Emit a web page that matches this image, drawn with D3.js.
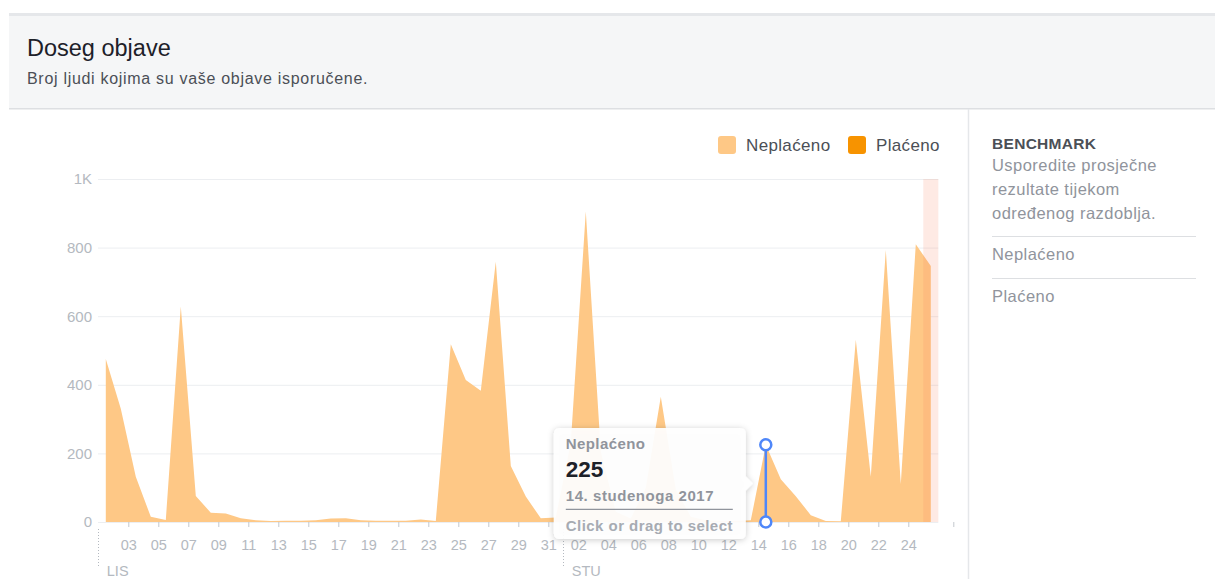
<!DOCTYPE html>
<meta charset="utf-8">
<script src="https://cdn.jsdelivr.net/npm/d3@7"></script>
<style>
body { margin: 0; background: #fff; }
text { font-family: "Liberation Sans", Arial, sans-serif; }
.grid line { stroke: #eceef1; }
.grid text { fill: #b4b9c0; font-size: 15px; }
.xaxis line { stroke: #c4c8ce; }
.xaxis text { fill: #b4b9c0; font-size: 14.5px; }
</style>
<body>
<script>

// daily reach, October 1..31 and November 1..25 (2017)
var octReach = [475, 330, 132, 15, 6, 628, 76, 27, 25, 11, 5, 3, 4, 4, 5, 10, 11, 5, 4, 4, 4, 7, 3, 518, 414, 383, 759, 163, 74, 11, 13];
var novReach = [230, 905, 205, 30, 10, 100, 365, 95, 15, 5, 3, 3, 5, 225, 125, 75, 20, 3, 2, 531, 132, 793, 111, 810, 746];
var yTicks = [0, 200, 400, 600, 800, 1000];
var months = [{label: "LIS", day: new Date(Date.UTC(2017, 9, 1))},
              {label: "STU", day: new Date(Date.UTC(2017, 10, 1))}];
var legendItems = [{name: "Neplaćeno", color: "#fec886"}, {name: "Plaćeno", color: "#f79300"}];
var hoverDay = 14; // November 14th

var data = [];
octReach.forEach(function(v, i) { data.push({date: new Date(Date.UTC(2017, 9, i + 1, 12)), value: v}); });
novReach.forEach(function(v, i) { data.push({date: new Date(Date.UTC(2017, 10, i + 1, 12)), value: v}); });

var width = 1215, height = 579;
var start = new Date(Date.UTC(2017, 9, 1)),
    gridEnd = new Date(Date.UTC(2017, 10, 26)),
    axisEnd = new Date(Date.UTC(2017, 10, 27));

var x = d3.scaleUtc().domain([start, axisEnd]).range([98.3, 953.3]);
var y = d3.scaleLinear().domain([0, 1000]).range([522, 179]);

var svg = d3.select("body").append("svg")
    .attr("width", width)
    .attr("height", height);

var defs = svg.append("defs");
var f = defs.append("filter").attr("id", "shadow").attr("x", "-20%").attr("y", "-20%").attr("width", "140%").attr("height", "140%");
f.append("feDropShadow").attr("dx", 0).attr("dy", 1).attr("stdDeviation", 3).attr("flood-color", "#000").attr("flood-opacity", 0.22);

// header
svg.append("rect").attr("x", 9).attr("y", 13).attr("width", width).attr("height", 3).attr("fill", "#e5e7ea");
svg.append("rect").attr("x", 9).attr("y", 16).attr("width", width).attr("height", 92).attr("fill", "#f5f6f7");
svg.append("rect").attr("x", 9).attr("y", 108).attr("width", width).attr("height", 1.5).attr("fill", "#dddfe2");
svg.append("text").attr("x", 27).attr("y", 56).attr("font-size", 23.5).attr("fill", "#1d2129").text("Doseg objave");
svg.append("text").attr("x", 27).attr("y", 84).attr("font-size", 16).attr("letter-spacing", 0.7).attr("fill", "#4b4f56").text("Broj ljudi kojima su vaše objave isporučene.");

// right panel
svg.append("line").attr("x1", 968.5).attr("x2", 968.5).attr("y1", 109).attr("y2", height).attr("stroke", "#e5e7ea").attr("stroke-width", 1.5);
var side = svg.append("g").attr("transform", "translate(992,0)");
side.append("text").attr("y", 149).attr("font-size", 15.5).attr("letter-spacing", 0.3).attr("font-weight", "bold").attr("fill", "#4b4f56").text("BENCHMARK");
["Usporedite prosječne", "rezultate tijekom", "određenog razdoblja."].forEach(function(t, i) {
  side.append("text").attr("y", 171 + i * 24).attr("font-size", 16.5).attr("letter-spacing", 0.45).attr("fill", "#90949c").text(t);
});
legendItems.forEach(function(d, i) {
  side.append("line").attr("x1", 0).attr("x2", 204).attr("y1", 236.5 + i * 42).attr("y2", 236.5 + i * 42).attr("stroke", "#dddfe2");
  side.append("text").attr("y", 260 + i * 42).attr("font-size", 16.5).attr("letter-spacing", 0.45).attr("fill", "#90949c").text(d.name);
});

// legend
var lx = [718, 848];
legendItems.forEach(function(d, i) {
  var g = svg.append("g").attr("transform", "translate(" + lx[i] + ",136)");
  g.append("rect").attr("width", 18).attr("height", 18).attr("rx", 3).attr("fill", d.color);
  g.append("text").attr("x", 28).attr("y", 15).attr("font-size", 17).attr("letter-spacing", 0.35).attr("fill", "#4b4f56").text(d.name);
});

// grid + y labels
svg.append("g")
    .attr("class", "grid")
    .attr("transform", "translate(98,0)")
    .call(d3.axisLeft(y).tickValues(yTicks)
      .tickSize(-(x(gridEnd) - 98))
      .tickPadding(6)
      .tickFormat(function(d) { return d === 1000 ? "1K" : d; }))
    .call(function(g) { g.select(".domain").remove(); });

// area
var area = d3.area()
    .x(function(d) { return x(d.date); })
    .y0(y(0))
    .y1(function(d) { return y(d.value); });

svg.append("path")
    .datum(data)
    .attr("fill", "#fec886")
    .attr("d", area);

// current day band
var today = new Date(Date.UTC(2017, 10, 25));
svg.append("rect")
    .attr("x", x(today))
    .attr("width", x(gridEnd) - x(today))
    .attr("y", y(1000))
    .attr("height", y(0) - y(1000))
    .attr("fill", "#f9825f")
    .attr("fill-opacity", 0.17);

// x axis
var tickDays = d3.utcDay.range(new Date(Date.UTC(2017, 9, 3)), gridEnd, 2);
svg.append("g")
    .attr("class", "xaxis")
    .attr("transform", "translate(0," + y(0) + ")")
    .call(d3.axisBottom(x).tickValues(tickDays.concat([axisEnd]))
      .tickSize(5)
      .tickPadding(13)
      .tickFormat(function(d) { return +d === +axisEnd ? "" : d3.utcFormat("%d")(d); }))
    .call(function(g) { g.select(".domain").remove(); });

months.forEach(function(m) {
  svg.append("line")
    .attr("x1", Math.round(x(m.day)) + 0.5).attr("x2", Math.round(x(m.day)) + 0.5)
    .attr("y1", 529).attr("y2", 566)
    .attr("stroke", "#b4b9c0").attr("stroke-dasharray", "1,2");
  svg.append("text")
    .attr("x", x(m.day) + 8.5).attr("y", 576)
    .attr("font-size", 14.5).attr("fill", "#b4b9c0")
    .text(m.label);
});

// hover marker
var hd = data[octReach.length + hoverDay - 1];
var hx = x(hd.date), hy = y(hd.value);
svg.append("line").attr("x1", hx).attr("x2", hx).attr("y1", hy).attr("y2", y(0))
    .attr("stroke", "#4f87f9").attr("stroke-width", 2.5);
[hy, y(0)].forEach(function(cy) {
  svg.append("circle").attr("cx", hx).attr("cy", cy).attr("r", 5.5)
    .attr("fill", "#fff").attr("stroke", "#4f87f9").attr("stroke-width", 2.5);
});

// tooltip
var tw = 192, th = 111;
var tx = hx - 20 - tw, ty = (hy + y(0)) / 2 - th / 2;
var tip = svg.append("g").attr("transform", "translate(" + tx + "," + ty + ")");
tip.append("path")
    .attr("d", "M6,0H" + (tw - 6) + "Q" + tw + ",0 " + tw + ",6V" + (th / 2 - 7) + "L" + (tw + 7) + "," + (th / 2) +
      "L" + tw + "," + (th / 2 + 7) + "V" + (th - 6) + "Q" + tw + "," + th + " " + (tw - 6) + "," + th +
      "H6Q0," + th + " 0," + (th - 6) + "V6Q0,0 6,0Z")
    .attr("fill", "#fff").attr("fill-opacity", 0.93)
    .attr("filter", "url(#shadow)");
tip.append("text").attr("x", 12).attr("y", 21).attr("font-size", 15).attr("letter-spacing", 0.4).attr("font-weight", "bold").attr("fill", "#90949c").text("Neplaćeno");
tip.append("text").attr("x", 12).attr("y", 49).attr("font-size", 22.5).attr("font-weight", "bold").attr("fill", "#1d2129").text(hd.value);
tip.append("text").attr("x", 12).attr("y", 73).attr("font-size", 15).attr("letter-spacing", 0.55).attr("font-weight", "bold").attr("fill", "#90949c").text("14. studenoga 2017");
tip.append("line").attr("x1", 12).attr("x2", 179).attr("y1", 81.5).attr("y2", 81.5).attr("stroke", "#90949c").attr("stroke-width", 1.2);
tip.append("text").attr("x", 12).attr("y", 103).attr("font-size", 15).attr("letter-spacing", 0.45).attr("font-weight", "bold").attr("fill", "#a7abb2").text("Click or drag to select");

</script>
</body>
</html>
